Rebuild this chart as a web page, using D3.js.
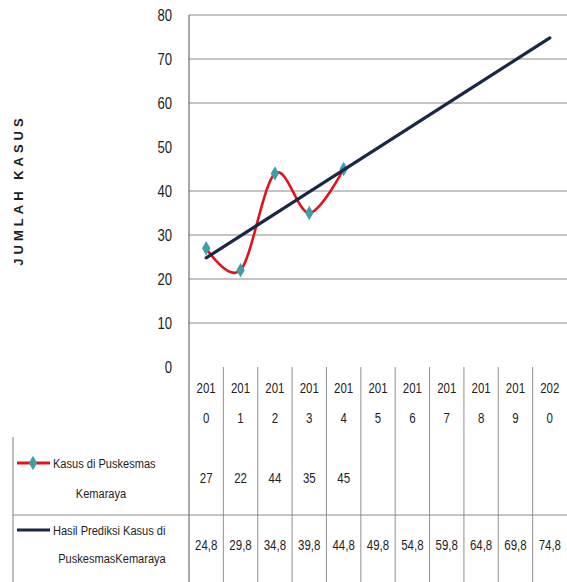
<!DOCTYPE html>
<html>
<head>
<meta charset="utf-8">
<script src="https://cdn.jsdelivr.net/npm/d3@7"></script>
<style>
  html, body { margin: 0; padding: 0; background: #fff; }
  svg text { font-family: "Liberation Sans", Arial, sans-serif; fill: #1e1e1e; }
</style>
</head>
<body>
<svg id="chart" width="567" height="582"></svg>
<script>
// ---- data ----
const years = ["2010","2011","2012","2013","2014","2015","2016","2017","2018","2019","2020"];
const kasus = [27, 22, 44, 35, 45];
const prediksi = [24.8, 29.8, 34.8, 39.8, 44.8, 49.8, 54.8, 59.8, 64.8, 69.8, 74.8];
const yTickValues = [0, 10, 20, 30, 40, 50, 60, 70, 80];
const gridValues = [10, 20, 30, 40, 60, 70, 80];
const seriesNames = [
  ["Kasus di  Puskesmas", "Kemaraya"],
  ["Hasil Prediksi Kasus di", "PuskesmasKemaraya"]
];
const yTitle = "JUMLAH KASUS";

// ---- layout ----
const W = 567, H = 582;
const plotLeft = 189, plotRight = 567, plotTop = 15, plotBottom = 367;
const svg = d3.select("#chart");
const SX = 0.82; // horizontal condensing of the narrow scanned font

function condense(sel, sx) {
  sel.each(function () {
    const t = d3.select(this);
    const xx = +t.attr("x") || 0;
    t.attr("x", xx / sx).attr("transform", `scale(${sx},1)`);
  });
}

const x = d3.scaleBand().domain(years).range([plotLeft, plotRight]).padding(0);
const cx = d => x(d) + x.bandwidth() / 2;
const y = d3.scaleLinear().domain([0, 80]).range([plotBottom, plotTop]);

// gridlines
svg.append("g").selectAll("line").data(gridValues).join("line")
  .attr("x1", plotLeft).attr("x2", plotRight)
  .attr("y1", d => y(d)).attr("y2", d => y(d))
  .attr("stroke", "#8a8a8a").attr("stroke-width", 1.2);

// y axis labels
const yAxis = d3.axisLeft(y).tickValues(yTickValues).tickSize(0).tickPadding(17);
const gy = svg.append("g").attr("transform", `translate(${plotLeft},0)`).call(yAxis);
gy.select(".domain").remove();
gy.selectAll("text").attr("font-size", 16).attr("dy", "0.36em")
  .style("font-family", "'Liberation Sans', Arial, sans-serif").attr("fill", "#1e1e1e");
condense(gy.selectAll("text"), SX);

// y title
svg.append("text")
  .attr("transform", `translate(23,190) rotate(-90)`)
  .attr("text-anchor", "middle")
  .attr("font-size", 13).attr("font-weight", "bold")
  .attr("letter-spacing", 4)
  .text(yTitle);

// left axis line (extends through table)
svg.append("line").attr("x1", plotLeft).attr("x2", plotLeft)
  .attr("y1", plotTop).attr("y2", H).attr("stroke", "#7a7a7a").attr("stroke-width", 1.3);

// ---- data table ----
const tableTop = 367, row1Top = 437, row2Top = 515, tableLeft = 13;
svg.append("g").selectAll("line").data(years.slice(1)).join("line")
  .attr("x1", d => x(d)).attr("x2", d => x(d))
  .attr("y1", tableTop).attr("y2", H)
  .attr("stroke", "#9a9a9a").attr("stroke-width", 1.1);
svg.append("line").attr("x1", tableLeft).attr("x2", tableLeft)
  .attr("y1", row1Top).attr("y2", H).attr("stroke", "#8a8a8a").attr("stroke-width", 1.1);
svg.append("line").attr("x1", tableLeft).attr("x2", plotRight)
  .attr("y1", row2Top).attr("y2", row2Top).attr("stroke", "#8a8a8a").attr("stroke-width", 1.1);

// header labels (split year)
const hdr = svg.append("g").attr("font-size", 14).attr("text-anchor", "middle");
hdr.selectAll("text.a").data(years).join("text").attr("class", "a")
  .attr("x", d => cx(d)).attr("y", 393).text(d => d.slice(0, 3));
hdr.selectAll("text.b").data(years).join("text").attr("class", "b")
  .attr("x", d => cx(d)).attr("y", 423).text(d => d.slice(3));
condense(hdr.selectAll("text"), SX);

// row values
const fmt1 = v => d3.format(".1f")(v).replace(".", ",");
const r1 = svg.append("g").attr("font-size", 14).attr("text-anchor", "middle");
r1.selectAll("text").data(kasus).join("text")
  .attr("x", (d, i) => cx(years[i])).attr("y", 483).text(d => d);
condense(r1.selectAll("text"), SX);
const r2 = svg.append("g").attr("font-size", 14).attr("text-anchor", "middle");
r2.selectAll("text").data(prediksi).join("text")
  .attr("x", (d, i) => cx(years[i])).attr("y", 550).text(d => fmt1(d));
condense(r2.selectAll("text"), SX);

// legend labels
const leg = svg.append("g").attr("font-size", 13.5);
leg.append("text").attr("x", 53).attr("y", 468).text(seriesNames[0][0]);
leg.append("text").attr("x", 101).attr("y", 498).attr("text-anchor", "middle").text(seriesNames[0][1]);
leg.append("text").attr("x", 53).attr("y", 535).text(seriesNames[1][0]);
leg.append("text").attr("x", 112).attr("y", 563).attr("text-anchor", "middle").text(seriesNames[1][1]);
condense(leg.selectAll("text"), SX);

const redColor = "#e3121a", navyColor = "#1b2747", markerColor = "#3e9fa6";
const diamond = d3.symbol().type(d3.symbolDiamond).size(60);

// legend keys
svg.append("line").attr("x1", 17).attr("x2", 50).attr("y1", 463).attr("y2", 463)
  .attr("stroke", redColor).attr("stroke-width", 3);
svg.append("path").attr("d", diamond()).attr("transform", "translate(33,463)").attr("fill", markerColor);
svg.append("line").attr("x1", 17).attr("x2", 50).attr("y1", 530).attr("y2", 530)
  .attr("stroke", navyColor).attr("stroke-width", 3);

// ---- series ----
const lineSmooth = d3.line().x((d, i) => cx(years[i])).y(d => y(d)).curve(d3.curveCardinal.tension(0));
const lineStraight = d3.line().x((d, i) => cx(years[i])).y(d => y(d));

svg.append("path").datum(kasus).attr("d", lineSmooth)
  .attr("fill", "none").attr("stroke", redColor).attr("stroke-width", 2.6);

svg.append("g").selectAll("path").data(kasus).join("path")
  .attr("d", diamond)
  .attr("transform", (d, i) => `translate(${cx(years[i])},${y(d)})`)
  .attr("fill", markerColor);

svg.append("path").datum(prediksi).attr("d", lineStraight)
  .attr("fill", "none").attr("stroke", navyColor).attr("stroke-width", 3.2)
  .attr("stroke-linecap", "round");
</script>
</body>
</html>
